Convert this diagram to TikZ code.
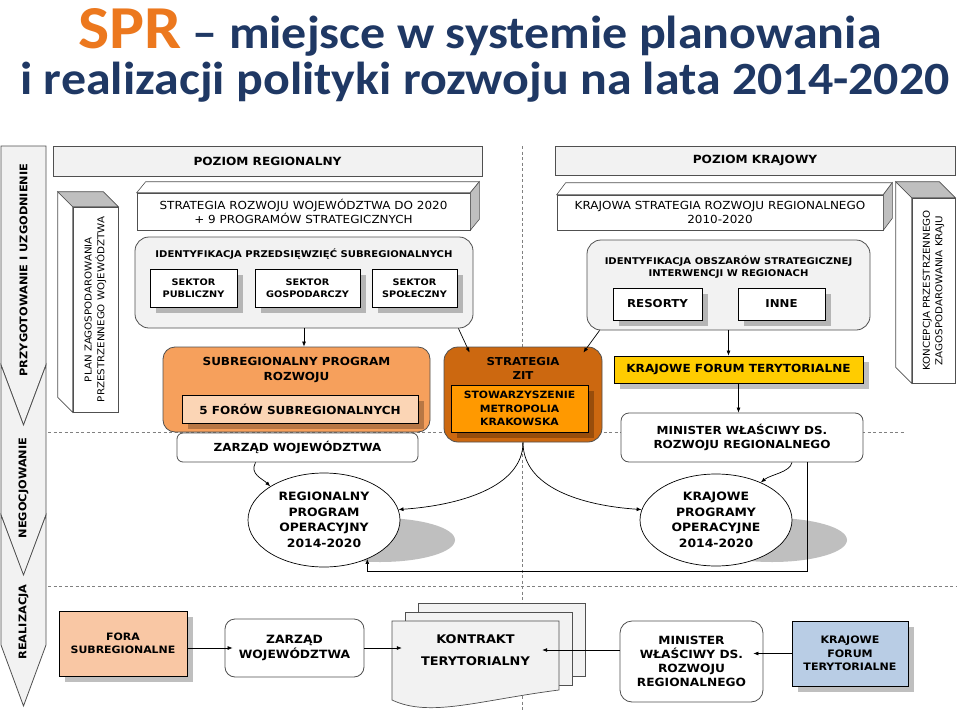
\documentclass[tikz,border=0pt]{standalone}
\usepackage{fontspec}
\setmainfont{DejaVu Sans}[FakeStretch=1.08]
\newfontfamily\titlefont{Carlito}[FakeStretch=1.08]
\usetikzlibrary{arrows.meta, positioning, calc, shadows, shapes.geometric}
\definecolor{titlenavy}{RGB}{31,56,100}
\definecolor{titleorange}{RGB}{236,120,30}
\definecolor{panelgray}{RGB}{242,242,242}
\definecolor{linegray}{RGB}{80,80,80}
\definecolor{sidegray}{RGB}{191,191,191}
\definecolor{subregorange}{RGB}{246,160,92}
\definecolor{forumpeach}{RGB}{251,213,181}
\definecolor{zitbrown}{RGB}{204,104,16}
\definecolor{zitorange}{RGB}{255,153,0}
\definecolor{forumgold}{RGB}{255,204,0}
\definecolor{forapeach}{RGB}{249,199,164}
\definecolor{krajblue}{RGB}{185,205,229}
\newcommand{\lblfont}[2]{\fontsize{#1}{#2}\selectfont\bfseries}
\newcommand{\txtfont}[2]{\fontsize{#1}{#2}\selectfont}

\begin{document}
\begin{tikzpicture}[x=1pt, y=-1pt,
    every node/.style={inner sep=0pt, align=center},
    arrow/.style={-{Latex[length=5pt,width=4pt]}, line width=0.7pt},
    dashline/.style={dash pattern=on 3pt off 2.5pt, draw=gray, line width=0.6pt},
    chevron/.style={draw=linegray, fill=panelgray, line width=0.8pt},
    header/.style={draw=linegray, fill=panelgray, line width=0.8pt, font=\lblfont{11.25}{14}},
    front/.style={draw=linegray, fill=white, line width=0.6pt, font=\txtfont{11.1}{13.5}},
    tower/.style={draw=linegray, fill=white, line width=0.6pt, font=\txtfont{9.5}{12.5}},
    panel/.style={draw=linegray, fill=panelgray, line width=0.8pt, rounded corners=14pt},
    cast/.style={drop shadow={shadow xshift=6pt, shadow yshift=-6pt, fill=black, opacity=0.25}},
    sector/.style={draw=black, fill=white, line width=0.8pt, cast, font=\lblfont{9}{12}},
    whitebox/.style={draw=linegray, fill=white, line width=0.8pt, rounded corners=8pt},
    oval/.style={ellipse, draw=black, fill=white, line width=0.7pt, font=\lblfont{11.5}{15.5}},
    phase/.style={rotate=90, font=\lblfont{10.5}{12}},
]
\useasboundingbox[fill=white] (0,0) rectangle (959,712);

% ── Title ──────────────────────────────────────────────────────────────
\node[anchor=base, text=titlenavy, font=\titlefont\fontsize{46.3}{50}\selectfont\bfseries]
      (title1) at (480,48) {\textcolor{titleorange}{\fontsize{61}{61}\selectfont SPR} – miejsce w systemie planowania};
\node[anchor=base, text=titlenavy, font=\titlefont\fontsize{46.2}{50}\selectfont\bfseries]
      (title2) at (485,94) {i realizacji polityki rozwoju na lata 2014-2020};

% ── Phase arrows (left strip) ──────────────────────────────────────────
\draw[chevron] (1,146) -- (46,146) -- (46,365) -- (23.5,425) -- (1,365) -- cycle;
\foreach \a/\b in {365/515, 515/645}
  \draw[chevron] (1,\a) -- (23.5,\a+60) -- (46,\a) -- (46,\b) -- (23.5,\b+61) -- (1,\b) -- cycle;
\node[phase] (prep)  at (23.5,270) {PRZYGOTOWANIE I UZGODNIENIE};
\node[phase] (negot) at (23.5,488) {NEGOCJOWANIE};
\node[phase] (real)  at (23.5,622) {REALIZACJA};

% ── Guide lines ────────────────────────────────────────────────────────
\draw[dashline] (48,432) -- (905,432);
\draw[dashline] (48,586) -- (956,586);
\draw[dashline] (522,146) -- (522,712);

% ── Level headers ──────────────────────────────────────────────────────
\node[header, minimum width=429, minimum height=30] (reghead)  at (267.5,161) {POZIOM REGIONALNY};
\node[header, minimum width=400, minimum height=29] (krajhead) at (755,160.5) {POZIOM KRAJOWY};

% ── Strategy blocks (3D) ───────────────────────────────────────────────
\node[front, minimum width=333, minimum height=37] (srw) at (303.5,211.5)
      {STRATEGIA ROZWOJU WOJEWÓDZTWA DO 2020\\+ 9 PROGRAMÓW STRATEGICZNYCH};
\node[front, minimum width=326, minimum height=35] (ksrr) at (720,212.5)
      {KRAJOWA STRATEGIA ROZWOJU REGIONALNEGO\\2010-2020};
\foreach \n/\dx/\dy in {srw/9/11, ksrr/9/12} {
  \draw[draw=linegray, fill=white, line width=0.6pt] (\n.north west) -- ++(\dx,-\dy)
        -- ($(\n.north east)+(\dx,-\dy)$) -- (\n.north east) -- cycle;
  \draw[draw=linegray, fill=sidegray, line width=0.6pt] (\n.north east) -- ++(\dx,-\dy)
        -- ($(\n.south east)+(\dx,-\dy)$) -- (\n.south east) -- cycle;
}

% ── Spatial plans (upright 3D) ─────────────────────────────────────────
\node[tower, minimum width=45, minimum height=205] (pzpw) at (95.5,309.5)
      {\rotatebox{90}{\begin{tabular}{@{}c@{}}PLAN ZAGOSPODAROWANIA\\PRZESTRZENNEGO WOJEWÓDZTWA\end{tabular}}};
\node[tower, minimum width=43, minimum height=185] (kpzk) at (933.5,290.5)
      {\rotatebox{90}{\begin{tabular}{@{}c@{}}KONCEPCJA PRZESTRZENNEGO\\ZAGOSPODAROWANIA KRAJU\end{tabular}}};
\foreach \n/\d in {pzpw/15, kpzk/16} {
  \draw[draw=linegray, fill=white, line width=0.6pt] (\n.north west) -- ++(-\d,-\d)
        -- ($(\n.south west)+(-\d,-\d)$) -- (\n.south west) -- cycle;
  \draw[draw=linegray, fill=sidegray, line width=0.6pt] (\n.north west) -- ++(-\d,-\d)
        -- ($(\n.north east)+(-\d,-\d)$) -- (\n.north east) -- cycle;
}

% ── Identification panels ──────────────────────────────────────────────
\node[panel, minimum width=338, minimum height=91] (identsub) at (304,282.5) {};
\node[font=\lblfont{9.3}{12}] (identsubtitle) at (304,254.5) {IDENTYFIKACJA PRZEDSIĘWZIĘĆ SUBREGIONALNYCH};
\node[sector, minimum width=87,  minimum height=38] (pub)  at (193.5,288) {SEKTOR\\PUBLICZNY};
\node[sector, minimum width=105, minimum height=38] (gosp) at (307.5,288) {SEKTOR\\GOSPODARCZY};
\node[sector, minimum width=85,  minimum height=38] (spol) at (414.5,288) {SEKTOR\\SPOŁECZNY};

\node[panel, minimum width=283, minimum height=90] (identobs) at (728.5,285) {};
\node[font=\lblfont{9.3}{12}] (identobstitle) at (728.5,267)
      {IDENTYFIKACJA OBSZARÓW STRATEGICZNEJ\\INTERWENCJI W REGIONACH};
\node[sector, font=\lblfont{10.9}{13}, minimum width=89, minimum height=32] (resorty) at (657.5,304) {RESORTY};
\node[sector, font=\lblfont{10.9}{13}, minimum width=87, minimum height=32] (inne)    at (781.5,304) {INNE};

% ── Programming row ────────────────────────────────────────────────────
\node[draw=linegray, fill=subregorange, line width=0.8pt, rounded corners=12pt,
      minimum width=267, minimum height=85] (subreg) at (296.5,389.5) {};
\node[font=\lblfont{11.1}{15}] (subregtitle) at (296.5,369.5) {SUBREGIONALNY PROGRAM\\ROZWOJU};
\node[draw=black, fill=forumpeach, line width=0.8pt, cast, font=\lblfont{11.1}{13},
      minimum width=236, minimum height=28] (forow) at (300,409) {5 FORÓW SUBREGIONALNYCH};
\node[whitebox, rounded corners=6pt, font=\lblfont{11.1}{14},
      minimum width=241, minimum height=29] (zarzadtop) at (297.5,447.5) {ZARZĄD WOJEWÓDZTWA};

\node[draw=linegray, fill=zitbrown, line width=0.8pt, rounded corners=14pt,
      minimum width=158, minimum height=95] (zit) at (523,394.5) {};
\node[font=\lblfont{10.9}{13.5}] (zittitle) at (523,368.5) {STRATEGIA\\ZIT};
\node[draw=black, fill=zitorange, line width=0.8pt, cast, font=\lblfont{10}{13.5},
      minimum width=137, minimum height=47] (zitinner) at (519.5,408.5)
      {STOWARZYSZENIE\\METROPOLIA\\KRAKOWSKA};

\node[draw=black, fill=forumgold, line width=0.8pt, cast, font=\lblfont{11.2}{13},
      minimum width=249, minimum height=27] (forum) at (738.5,369.5) {KRAJOWE FORUM TERYTORIALNE};
\node[whitebox, font=\lblfont{11.1}{14.5}, minimum width=242, minimum height=49] (minister) at (742,437.5)
      {MINISTER WŁAŚCIWY DS.\\ROZWOJU REGIONALNEGO};

% ── Operational programmes ─────────────────────────────────────────────
\fill[sidegray] (380,540) ellipse [x radius=75pt, y radius=22pt];
\fill[sidegray] (772,540) ellipse [x radius=75pt, y radius=22pt];
\node[oval, minimum width=152, minimum height=94] (rpo) at (324,520)
      {REGIONALNY\\PROGRAM\\OPERACYJNY\\2014-2020};
\node[oval, minimum width=152, minimum height=92] (kpo) at (716,520)
      {KRAJOWE\\PROGRAMY\\OPERACYJNE\\2014-2020};

% ── Implementation row ─────────────────────────────────────────────────
\node[draw=black, fill=forapeach, line width=0.8pt, cast, font=\lblfont{10.15}{13},
      minimum width=128, minimum height=65] (fora) at (123,643.5) {FORA\\SUBREGIONALNE};
\node[whitebox, rounded corners=10pt, font=\lblfont{11.4}{15},
      minimum width=139, minimum height=58] (zarzadbot) at (294.5,648) {ZARZĄD\\WOJEWÓDZTWA};

\draw[draw=linegray, fill=panelgray, line width=0.7pt] (418,603) rectangle (585,676);
\draw[draw=linegray, fill=panelgray, line width=0.7pt] (405,612) rectangle (572,685);
\draw[draw=linegray, fill=panelgray, line width=0.7pt] (392,621) -- (559,621) -- (559,690)
      .. controls (480,700) and (430,718) .. (392,700) -- cycle;
\node[font=\lblfont{11.9}{22}, minimum width=167, minimum height=58] (kontrakt) at (475.5,650)
      {KONTRAKT\\TERYTORIALNY};

\node[whitebox, rounded corners=12pt, font=\lblfont{11.3}{14},
      minimum width=143, minimum height=81] (ministerbot) at (691.5,661.5)
      {MINISTER\\WŁAŚCIWY DS.\\ROZWOJU\\REGIONALNEGO};
\node[draw=black, fill=krajblue, line width=0.8pt, cast, font=\lblfont{10.25}{13.5},
      minimum width=116, minimum height=65] (krajbot) at (850,653.5) {KRAJOWE\\FORUM\\TERYTORIALNE};

% ── Arrows ─────────────────────────────────────────────────────────────
\draw[arrow] (identsub.south) -- (identsub.south |- subreg.north);
\draw[arrow] ([xshift=-15pt]identsub.south east) -- ([xshift=26pt,yshift=-6pt]zit.north west);
\draw[arrow] ([xshift=13pt]identobs.south west) -- ([xshift=-19pt,yshift=-6pt]zit.north east);
\draw[arrow] (identobs.south) -- (identobs.south |- forum.north);
\draw[arrow] (forum.south) -- (forum.south |- minister.north);
\draw[arrow] ([xshift=-42pt]zarzadtop.south) .. controls +(-6,12) and +(-8,-8) .. (rpo.148);
\draw[arrow] (zit.south) .. controls +(0,45) and +(60,-4) .. (rpo.8);
\draw[arrow] (zit.south) .. controls +(0,45) and +(-60,-4) .. (kpo.172);
\draw[arrow] ([xshift=50pt]minister.south) .. controls +(-2,10) and +(10,-8) .. (kpo.40);
\draw[arrow] ([xshift=65pt]minister.south) -- ++(0,109) -| (rpo.-42);

\draw[arrow, shorten >=-8pt] (fora.east |- zarzadbot.west) -- (zarzadbot.west);
\draw[arrow, shorten >=-10pt] (zarzadbot.east) -- (zarzadbot.east -| kontrakt.west);
\draw[arrow, shorten >=-17pt] (ministerbot.west |- kontrakt.east) -- (kontrakt.east);
\draw[arrow, shorten >=-10pt] (krajbot.west) -- (krajbot.west -| ministerbot.east);

\end{tikzpicture}
\end{document}
